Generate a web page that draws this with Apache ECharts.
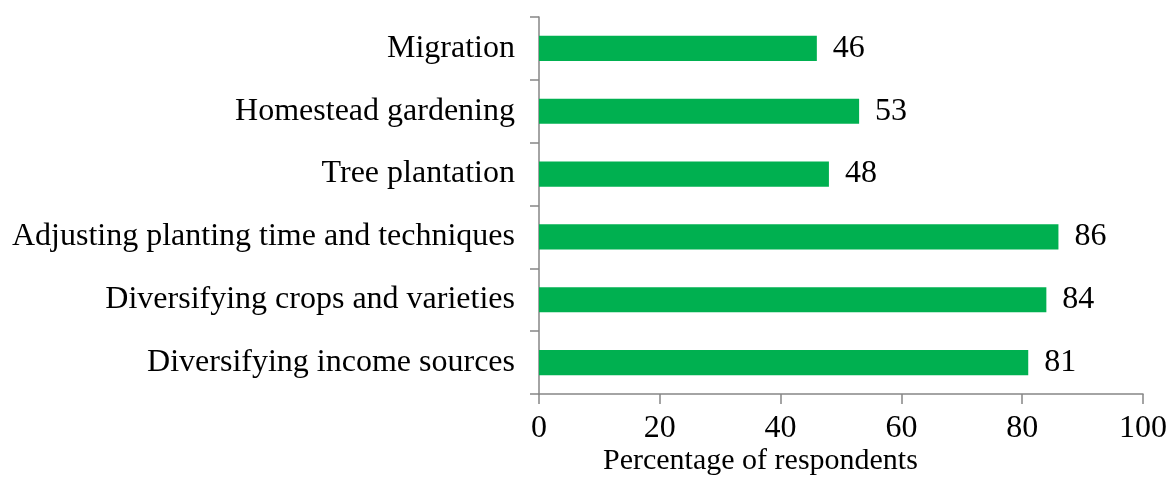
<!DOCTYPE html>
<html>
<head>
<meta charset="utf-8">
<script src="https://cdn.jsdelivr.net/npm/echarts@6/dist/echarts.min.js"></script>
<style>
  html, body { margin: 0; padding: 0; background: #fff; }
  #div-chart { width: 1170px; height: 477px; }
</style>
</head>
<body>
<div id="div-chart"></div>
<script>
var categories = ['Diversifying income sources', 'Diversifying crops and varieties',
    'Adjusting planting time and techniques', 'Tree plantation',
    'Homestead gardening', 'Migration'];
var values = [81, 84, 86, 48, 53, 46];
var xTicks = [0, 20, 40, 60, 80, 100];

var myChart = echarts.init(document.getElementById('div-chart'));
var font = '"Liberation Serif", "Times New Roman", serif';

var option = {
    animation: false,
    textStyle: { fontFamily: font },
    title: {
        text: 'Percentage of respondents',
        left: 598,
        top: 441,
        textStyle: { fontFamily: font, fontSize: 30, fontWeight: 'normal', color: '#000' }
    },
    grid: { left: 539, top: 17, width: 605, height: 377, containLabel: false },
    xAxis: {
        type: 'value',
        min: xTicks[0],
        max: xTicks[xTicks.length - 1],
        interval: 20,
        splitLine: { show: false },
        axisLine: { show: true, lineStyle: { color: '#868686', width: 1.5 } },
        axisTick: { show: true, length: 10, lineStyle: { color: '#868686', width: 1.5 } },
        axisLabel: { color: '#000', fontSize: 32, margin: 19, fontFamily: font }
    },
    yAxis: {
        type: 'category',
        data: categories,
        axisLine: { show: true, lineStyle: { color: '#868686', width: 1.5 } },
        axisTick: { show: true, length: 9, lineStyle: { color: '#868686', width: 1.5 } },
        axisLabel: { color: '#000', fontSize: 32, margin: 24, fontFamily: font }
    },
    series: [{
        type: 'bar',
        data: values,
        barWidth: '40%',
        itemStyle: { color: '#00b050' },
        label: {
            show: true,
            position: 'right',
            distance: 16,
            color: '#000',
            fontSize: 32,
            fontFamily: font
        }
    }]
};

myChart.setOption(option);
</script>
</body>
</html>
